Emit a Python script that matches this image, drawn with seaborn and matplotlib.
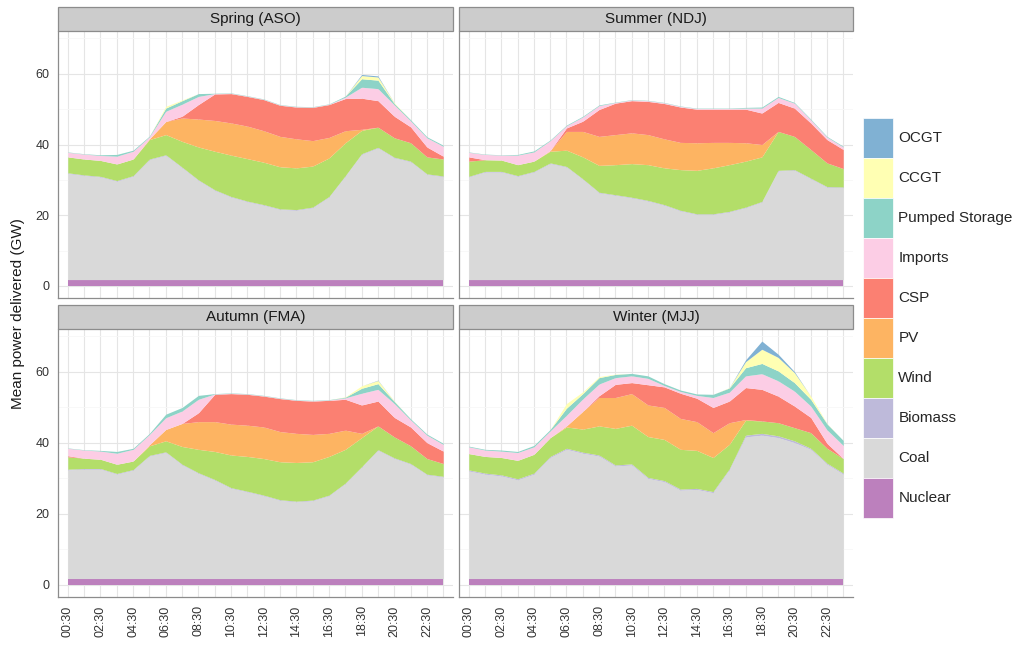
import numpy as np
import pandas as pd
import seaborn as sns
import matplotlib.pyplot as plt
from matplotlib.patches import Rectangle, Patch

# half-hourly slots, one value per hour
hours = ["00:30", "01:30", "02:30", "03:30", "04:30", "05:30", "06:30", "07:30",
         "08:30", "09:30", "10:30", "11:30", "12:30", "13:30", "14:30", "15:30",
         "16:30", "17:30", "18:30", "19:30", "20:30", "21:30", "22:30", "23:30"]
sources = ["Nuclear", "Coal", "Biomass", "Wind", "PV", "CSP", "Imports",
           "Pumped Storage", "CCGT", "OCGT"]
seasons = ["Spring (ASO)", "Summer (NDJ)", "Autumn (FMA)", "Winter (MJJ)"]
colours = {"Nuclear": "#BC80BD", "Coal": "#D9D9D9", "Biomass": "#BEBADA",
           "Wind": "#B3DE69", "PV": "#FDB462", "CSP": "#FB8072",
           "Imports": "#FCCDE5", "Pumped Storage": "#8DD3C7",
           "CCGT": "#FFFFB3", "OCGT": "#80B1D3"}

# ---- Spring (ASO), GW
spring_nuclear = [1.8, 1.8, 1.8, 1.8, 1.8, 1.8, 1.8, 1.8, 1.8, 1.8, 1.8, 1.8,
                  1.8, 1.8, 1.8, 1.8, 1.8, 1.8, 1.8, 1.8, 1.8, 1.8, 1.8, 1.8]
spring_coal = [30.0, 29.4, 29.0, 27.8, 29.2, 33.9, 35.1, 31.6, 28.0, 25.2, 23.3, 22.0,
               21.0, 19.8, 19.6, 20.3, 23.3, 29.2, 35.4, 37.2, 34.4, 33.3, 29.7, 29.1]
spring_biomass = [0.2, 0.2, 0.2, 0.2, 0.2, 0.2, 0.2, 0.2, 0.2, 0.2, 0.2, 0.2,
                  0.2, 0.2, 0.2, 0.2, 0.2, 0.2, 0.2, 0.2, 0.2, 0.2, 0.2, 0.2]
spring_wind = [4.5, 4.5, 4.5, 4.7, 4.7, 5.5, 5.7, 7.3, 9.3, 10.9, 11.7, 12.0,
               12.0, 11.9, 11.8, 11.6, 10.9, 9.3, 6.6, 5.7, 5.5, 5.2, 4.8, 4.8]
spring_pv = [0, 0, 0, 0, 0, 0.2, 3.7, 6.6, 7.9, 8.7, 9.1, 9.2,
             8.9, 8.6, 8.2, 7.2, 5.8, 3.4, 0.3, 0, 0, 0, 0, 0]
spring_csp = [0, 0, 0, 0, 0, 0, 0, 0.5, 4.1, 7.5, 8.3, 8.4,
              8.8, 8.8, 9.0, 9.4, 9.3, 9.1, 8.8, 7.5, 6.1, 4.5, 2.8, 0.8]
spring_imports = [1.3, 1.4, 1.4, 2.2, 2.2, 0.6, 2.9, 3.4, 2.3, 0.1, 0.1, 0.1,
                  0.1, 0.1, 0.1, 0.1, 0.1, 0.4, 3.1, 3.4, 3.2, 1.7, 2.6, 2.8]
spring_pumped = [0.1, 0.1, 0.2, 0.5, 0.3, 0.2, 0.9, 1.0, 0.8, 0.1, 0.1, 0.1,
                 0.1, 0.1, 0.1, 0.1, 0.1, 0.3, 2.4, 2.4, 0.4, 0.3, 0.3, 0.3]
spring_ccgt = [0, 0, 0, 0, 0, 0, 0.5, 0.2, 0, 0, 0, 0,
               0, 0, 0, 0, 0, 0, 0.9, 0.9, 0.2, 0, 0, 0]
spring_ocgt = [0, 0, 0, 0, 0, 0, 0, 0, 0, 0, 0, 0,
               0, 0, 0, 0, 0, 0, 0.3, 0.3, 0, 0, 0, 0]

# ---- Summer (NDJ)
summer_nuclear = [1.8, 1.8, 1.8, 1.8, 1.8, 1.8, 1.8, 1.8, 1.8, 1.8, 1.8, 1.8,
                  1.8, 1.8, 1.8, 1.8, 1.8, 1.8, 1.8, 1.8, 1.8, 1.8, 1.8, 1.8]
summer_coal = [29.0, 30.4, 30.4, 29.2, 30.4, 32.8, 31.8, 28.3, 24.5, 23.8, 23.1, 22.2,
               21.0, 19.4, 18.4, 18.4, 19.1, 20.3, 21.9, 30.7, 30.9, 28.5, 26.1, 26.0]
summer_biomass = [0.2, 0.2, 0.2, 0.2, 0.2, 0.2, 0.2, 0.2, 0.2, 0.2, 0.2, 0.2,
                  0.2, 0.2, 0.2, 0.2, 0.2, 0.2, 0.2, 0.2, 0.2, 0.2, 0.2, 0.2]
summer_wind = [4.3, 3.3, 3.2, 3.1, 2.9, 3.3, 4.6, 6.2, 7.6, 8.5, 9.5, 10.1,
               10.4, 11.5, 12.3, 13.0, 13.2, 13.0, 12.6, 11.0, 9.4, 8.1, 6.7, 5.2]
summer_pv = [0, 0, 0, 0, 0, 0.2, 5.3, 7.2, 8.2, 8.5, 8.7, 8.5,
             8.2, 7.7, 7.8, 7.2, 6.3, 5.2, 3.5, 0, 0, 0, 0, 0]
summer_csp = [1.2, 0, 0, 0, 0, 0, 1.0, 2.9, 7.6, 8.9, 9.1, 9.4,
              10.0, 10.0, 9.5, 9.4, 9.4, 9.5, 8.9, 8.2, 8.0, 7.5, 6.6, 5.4]
summer_imports = [1.3, 1.5, 1.4, 2.7, 2.6, 2.8, 0.6, 1.2, 1.1, 0.2, 0.2, 0.2,
                  0.2, 0.2, 0.2, 0.2, 0.2, 0.3, 1.4, 1.4, 1.4, 0.9, 0.7, 0.7]
summer_pumped = [0.1, 0.1, 0.1, 0.2, 0.3, 0.2, 0.2, 0.2, 0.2, 0.1, 0.1, 0.1,
                 0.1, 0.1, 0.1, 0.1, 0.1, 0.2, 0.3, 0.3, 0.2, 0.2, 0.2, 0.2]
summer_ccgt = [0, 0, 0, 0, 0, 0, 0, 0, 0, 0, 0, 0,
               0, 0, 0, 0, 0, 0, 0, 0, 0, 0, 0, 0]
summer_ocgt = [0, 0, 0, 0, 0, 0, 0, 0, 0, 0, 0, 0,
               0, 0, 0, 0, 0, 0, 0, 0, 0, 0, 0, 0]

# ---- Autumn (FMA)
autumn_nuclear = [1.8, 1.8, 1.8, 1.8, 1.8, 1.8, 1.8, 1.8, 1.8, 1.8, 1.8, 1.8,
                  1.8, 1.8, 1.8, 1.8, 1.8, 1.8, 1.8, 1.8, 1.8, 1.8, 1.8, 1.8]
autumn_coal = [30.6, 30.8, 30.8, 29.4, 30.5, 34.5, 35.5, 32.0, 29.6, 27.7, 25.4, 24.4,
               23.3, 22.0, 21.6, 21.9, 23.3, 26.7, 31.3, 36.1, 33.8, 32.2, 29.2, 28.6]
autumn_biomass = [0.2, 0.2, 0.2, 0.2, 0.2, 0.2, 0.2, 0.2, 0.2, 0.2, 0.2, 0.2,
                  0.2, 0.2, 0.2, 0.2, 0.2, 0.2, 0.2, 0.2, 0.2, 0.2, 0.2, 0.2]
autumn_wind = [3.5, 2.9, 2.6, 2.6, 2.4, 2.7, 3.1, 5.0, 6.6, 7.9, 9.2, 9.8,
               10.3, 10.7, 10.9, 10.8, 10.9, 9.5, 8.2, 6.7, 5.9, 5.0, 4.4, 3.6]
autumn_pv = [0, 0, 0, 0, 0, 0.3, 3.2, 6.5, 7.8, 8.4, 8.7, 8.8,
             8.9, 8.5, 8.2, 7.7, 6.5, 5.4, 1.2, 0, 0, 0, 0, 0]
autumn_csp = [0.3, 0, 0, 0, 0, 0, 0, 0, 2.5, 7.7, 8.6, 8.7,
              8.7, 9.3, 9.3, 9.4, 9.3, 8.7, 8.0, 7.0, 5.5, 5.3, 4.5, 3.5]
autumn_imports = [2.1, 2.3, 2.3, 3.1, 3.3, 2.9, 3.3, 3.5, 3.8, 0.1, 0.1, 0.1,
                  0.1, 0.1, 0.1, 0.1, 0.1, 0.4, 3.3, 3.3, 3.9, 2.0, 2.1, 1.9]
autumn_pumped = [0.1, 0.1, 0.2, 0.5, 0.3, 0.3, 1.0, 1.0, 1.1, 0.1, 0.1, 0.1,
                 0.1, 0.1, 0.1, 0.1, 0.1, 0.2, 1.4, 1.6, 0.6, 0.3, 0.3, 0.3]
autumn_ccgt = [0, 0, 0, 0, 0, 0, 0, 0, 0, 0, 0, 0,
               0, 0, 0, 0, 0, 0.1, 0.7, 0.9, 0.1, 0, 0, 0]
autumn_ocgt = [0, 0, 0, 0, 0, 0, 0, 0, 0, 0, 0, 0,
               0, 0, 0, 0, 0, 0, 0, 0.1, 0, 0, 0, 0]

# ---- Winter (MJJ)
winter_nuclear = [1.8, 1.8, 1.8, 1.8, 1.8, 1.8, 1.8, 1.8, 1.8, 1.8, 1.8, 1.8,
                  1.8, 1.8, 1.8, 1.8, 1.8, 1.8, 1.8, 1.8, 1.8, 1.8, 1.8, 1.8]
winter_coal = [30.3, 29.4, 28.9, 27.8, 29.4, 34.1, 36.4, 35.3, 34.5, 31.7, 32.0, 28.2,
               27.3, 24.9, 25.1, 24.2, 30.6, 39.9, 40.4, 39.7, 38.3, 36.4, 32.2, 29.4]
winter_biomass = [0.3, 0.3, 0.3, 0.3, 0.3, 0.3, 0.3, 0.3, 0.3, 0.3, 0.3, 0.3,
                  0.3, 0.3, 0.3, 0.3, 0.3, 0.5, 0.5, 0.5, 0.5, 0.3, 0.3, 0.3]
winter_wind = [4.6, 4.7, 4.9, 5.2, 5.3, 5.3, 6.0, 6.5, 8.2, 10.3, 10.9, 11.5,
               11.6, 11.2, 10.7, 9.6, 6.9, 4.2, 3.5, 3.7, 3.7, 4.4, 4.2, 4.1]
winter_pv = [0, 0, 0, 0, 0, 0, 0.3, 5.0, 8.0, 8.7, 8.9, 8.9,
             9.0, 8.7, 8.1, 7.0, 6.1, 0.2, 0, 0, 0, 0, 0, 0]
winter_csp = [0, 0, 0, 0, 0, 0, 0, 0, 0.5, 3.7, 3.1, 5.7,
              5.8, 7.1, 6.6, 7.1, 6.1, 9.0, 8.9, 7.5, 6.1, 4.3, 1.4, 0]
winter_imports = [1.9, 1.8, 1.8, 2.2, 2.1, 1.9, 3.0, 3.5, 3.3, 1.9, 1.9, 1.8,
                  0.4, 0.5, 0.8, 2.8, 2.5, 3.3, 4.4, 4.3, 4.2, 3.2, 3.8, 3.7]
winter_pumped = [0.2, 0.2, 0.3, 0.3, 0.4, 0.4, 2.0, 1.5, 1.8, 0.9, 0.7, 0.7,
                 0.5, 0.4, 0.4, 0.9, 1.2, 2.3, 2.9, 2.8, 2.4, 1.9, 1.7, 1.4]
winter_ccgt = [0, 0, 0, 0, 0, 0, 1.3, 0.5, 0.3, 0.1, 0, 0,
               0, 0, 0, 0, 0.1, 1.7, 4.0, 3.8, 2.8, 0.9, 0.1, 0]
winter_ocgt = [0, 0, 0, 0, 0, 0, 0, 0, 0, 0, 0, 0,
               0, 0, 0, 0, 0, 0.5, 2.3, 0.9, 0.3, 0, 0, 0]

layers = {
    "Spring (ASO)": [spring_nuclear, spring_coal, spring_biomass, spring_wind, spring_pv,
                     spring_csp, spring_imports, spring_pumped, spring_ccgt, spring_ocgt],
    "Summer (NDJ)": [summer_nuclear, summer_coal, summer_biomass, summer_wind, summer_pv,
                     summer_csp, summer_imports, summer_pumped, summer_ccgt, summer_ocgt],
    "Autumn (FMA)": [autumn_nuclear, autumn_coal, autumn_biomass, autumn_wind, autumn_pv,
                     autumn_csp, autumn_imports, autumn_pumped, autumn_ccgt, autumn_ocgt],
    "Winter (MJJ)": [winter_nuclear, winter_coal, winter_biomass, winter_wind, winter_pv,
                     winter_csp, winter_imports, winter_pumped, winter_ccgt, winter_ocgt],
}

rows = []
for season in seasons:
    for src, vals in zip(sources, layers[season]):
        for h, v in zip(hours, vals):
            rows.append((season, h, src, v))
df = pd.DataFrame(rows, columns=["season", "time", "source", "gw"])

sns.set_theme(style="white")
plt.rcParams["font.family"] = ["Liberation Sans", "DejaVu Sans"]


def stacked_area(data, **kws):
    ax = plt.gca()
    wide = data.pivot(index="time", columns="source", values="gw")
    wide = wide.reindex(index=hours, columns=sources)
    ax.stackplot(np.arange(len(hours)), wide.T.values,
                 colors=[colours[s] for s in sources], linewidth=0, zorder=2)


g = sns.FacetGrid(df, col="season", col_order=seasons, col_wrap=2,
                  sharex=True, sharey=True, height=3, aspect=1.3)
g.map_dataframe(stacked_area)

fig = g.figure
fig.set_size_inches(10.23, 6.47)
W, H = 1023, 647
boxes = [(58, 453, 31, 298), (459, 853, 31, 298),
         (58, 453, 329, 597), (459, 853, 329, 597)]
xlabels = [h if i % 2 == 0 else "" for i, h in enumerate(hours)]

for k, (ax, season) in enumerate(zip(g.axes.flat, seasons)):
    x0, x1, yt, yb = boxes[k]
    ax.set_position([x0 / W, 1 - yb / H, (x1 - x0) / W, (yb - yt) / H])
    ax.set_xlim(-0.6, 23.6)
    ax.set_ylim(-3.4, 72.1)
    ax.set_xticks(range(len(hours)))
    ax.set_xticklabels(xlabels, rotation=90)
    ax.set_yticks([0, 20, 40, 60])
    ax.set_yticks([10, 30, 50, 70], minor=True)
    ax.grid(which="major", color="#E5E5E5", linewidth=0.8, zorder=0)
    ax.grid(which="minor", axis="y", color="#F7F7F7", linewidth=0.6, zorder=0)
    ax.set_axisbelow(True)
    for sp in ax.spines.values():
        sp.set_color("#8C8C8C")
        sp.set_linewidth(0.9)
    ax.set_title("")
    ax.set_xlabel("")
    ax.set_ylabel("")
    ax.tick_params(axis="both", which="major", direction="out", length=4,
                   width=1.0, color="#333333", labelsize=9, labelcolor="#333333", pad=2)
    ax.tick_params(axis="y", which="minor", length=0)
    if k < 2:
        ax.tick_params(axis="x", length=0, labelbottom=False)
    else:
        ax.tick_params(axis="x", labelbottom=True)
    if k % 2 == 1:
        ax.tick_params(axis="y", length=0, labelleft=False)
    else:
        ax.tick_params(axis="y", labelleft=True)

    # strip on top of each panel
    sh = 24 / (yb - yt)
    ax.add_patch(Rectangle((0, 1), 1, sh, transform=ax.transAxes, clip_on=False,
                           facecolor="#CCCCCC", edgecolor="#8C8C8C", linewidth=0.9))
    ax.text(0.5, 1 + sh / 2, season, transform=ax.transAxes, ha="center",
            va="center", fontsize=11, color="#1A1A1A")

fig.text(18 / W, 1 - 314 / H, "Mean power delivered (GW)", rotation=90,
         ha="center", va="center", fontsize=11, color="#1A1A1A")

handles = [Patch(facecolor=colours[s], edgecolor="white", linewidth=0.5, label=s)
           for s in reversed(sources)]
fig.legend(handles=handles, loc="upper left", bbox_to_anchor=(863 / W, 1 - 118 / H),
           frameon=False, fontsize=11, handlelength=1.96, handleheight=3.65,
           labelspacing=0.0, handletextpad=0.35, borderpad=0, borderaxespad=0)

fig.savefig("out.png", dpi=100)
